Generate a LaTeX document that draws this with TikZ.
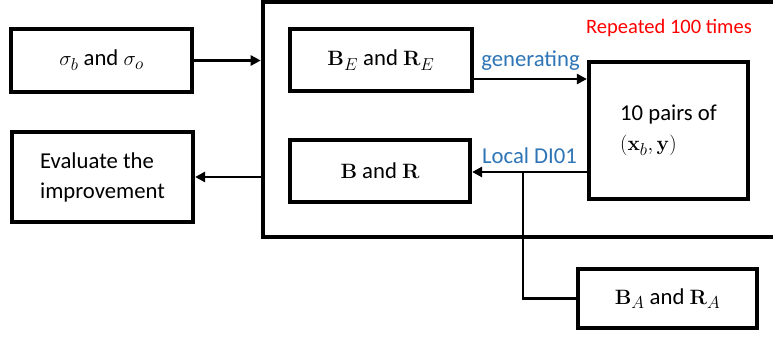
\documentclass[tikz,border=0pt]{standalone}
\usepackage[no-math]{fontspec}
\setmainfont{Carlito}
\usetikzlibrary{arrows.meta}
\definecolor{lblblue}{RGB}{46,117,182}
\begin{document}
\begin{tikzpicture}[x=1pt,y=-1pt,
  box/.style={draw=black,line width=4.2pt,inner sep=0pt,font=\fontsize{22.7}{30}\selectfont},
  conn/.style={line width=2.6pt,-{Triangle[length=10pt,width=10pt]}},
  plain/.style={line width=2.6pt},
  lbl/.style={text=lblblue,font=\fontsize{22.7}{27}\selectfont,inner sep=0pt}]
\useasboundingbox (0,0) rectangle (773,339);
\clip (0,0) rectangle (773,339);
\node[draw=black,line width=4.6pt,minimum width=522pt,minimum height=235pt,inner sep=0pt] (loop) at (524,119.5) {};
\node[box,minimum width=181pt,minimum height=63pt] (sig) at (101.5,60.5) {$\sigma_b$ and $\sigma_o$};
\node[box,minimum width=181pt,minimum height=90pt,align=left] (eval) at (102.5,177) {Evaluate the\\improvement};
\node[box,minimum width=182pt,minimum height=62pt] (BE) at (381,60) {$\mathbf{B}_E$ and $\mathbf{R}_E$};
\node[box,minimum width=180pt,minimum height=62pt] (BR) at (380,171) {$\mathbf{B}$ and $\mathbf{R}$};
\node[box,minimum width=159pt,minimum height=137pt,align=left] (pairs) at (668.5,130.5) {10 pairs of\\$(\mathbf{x}_b,\mathbf{y})$};
\node[box,minimum width=179pt,minimum height=59pt] (BA) at (667.5,298.5) {$\mathbf{B}_A$ and $\mathbf{R}_A$};
\node[text=red,font=\fontsize{20.5}{24}\selectfont,inner sep=0pt] (rep) at (669,28) {Repeated 100 times};
\draw[conn] (sig.east) -- (sig.east -| loop.west);
\draw[conn] (eval.east -| loop.west) -- (eval.east);
\draw[conn] (BE.east |- 0,79) -- (pairs.west |- 0,79) node[lbl,midway,above=7pt] (gen) {generating};
\draw[conn] (pairs.west |- 0,172) -- (BR.east |- 0,172) node[lbl,midway,above=7pt] (loc) {Local DI01};
\coordinate (junc) at (523,172);
\draw[plain] (junc) |- (BA.west);
\end{tikzpicture}
\end{document}
